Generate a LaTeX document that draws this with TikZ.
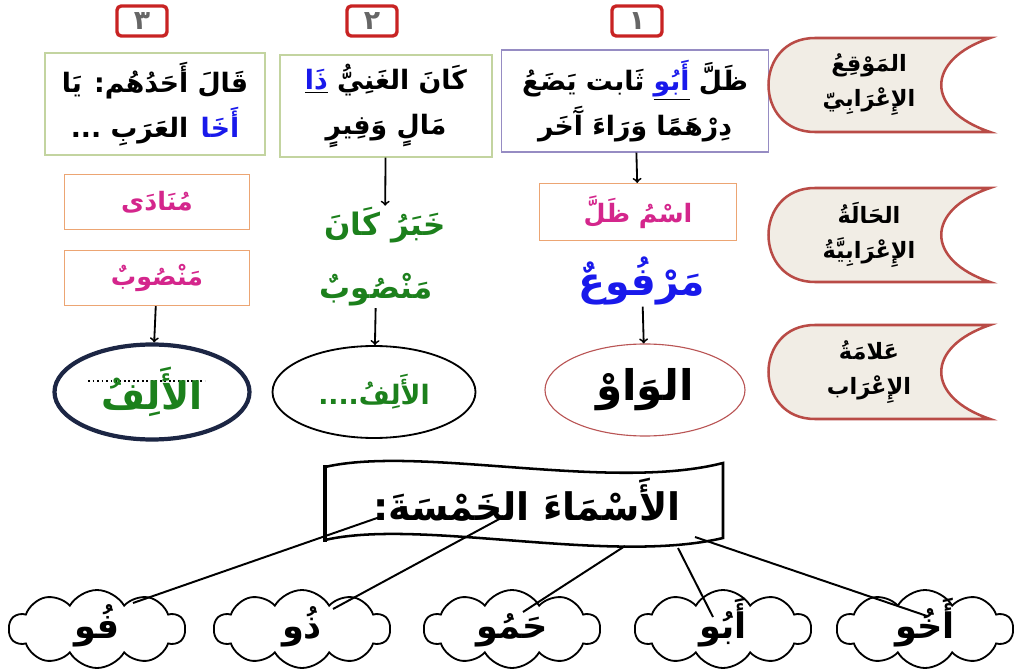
\documentclass[tikz,border=0pt]{standalone}
\usepackage{fontspec}
\newfontfamily\arabicfont[Script=Arabic]{DejaVu Sans}
\TeXXeTstate=1
\usetikzlibrary{shapes,shapes.symbols,positioning,calc}

\newlength\upx
\setlength\upx{0.025cm}
\newcommand\artxt[1]{\beginR #1\endR}
\newcommand\cloudtxt[1]{\raisebox{-7pt}[0pt][0pt]{\makebox[0pt]{\artxt{#1}}}}
\newcommand\arsize[2]{\arabicfont\bfseries\fontsize{#1}{#2}\selectfont}

\definecolor{numred}{RGB}{200,35,35}
\definecolor{tabred}{RGB}{185,75,70}
\definecolor{tabfill}{RGB}{241,237,229}
\definecolor{boxpurple}{RGB}{150,140,195}
\definecolor{boxgreen}{RGB}{195,212,160}
\definecolor{boxorange}{RGB}{236,165,115}
\definecolor{pinktxt}{RGB}{212,38,140}
\definecolor{greentxt}{RGB}{28,128,28}
\definecolor{bluetxt}{RGB}{25,25,235}
\definecolor{ellred}{RGB}{185,85,85}
\definecolor{navy}{RGB}{28,38,68}

\begin{document}
\begin{tikzpicture}[
      x=\upx, y=-\upx,
      numbox/.style = {draw=numred, line width=2.4pt, rounded corners=3pt, fill=white,
                       minimum width=50\upx, minimum height=30\upx, inner sep=0pt,
                       font=\arsize{19}{20}, text=black!60},
      topbox/.style = {draw, line width=0.8pt, align=center, inner sep=2pt,
                       minimum height=102\upx, font=\arsize{19}{32}},
      tabline/.style = {draw=tabred, line width=1.8pt, fill=tabfill},
      tabtxt/.style = {align=center, font=\arsize{16}{25}},
      casebox/.style = {draw=boxorange, line width=0.8pt, text=pinktxt,
                        inner sep=1pt, font=\arsize{18}{22}},
      bigtxt/.style = {inner sep=1pt, font=\arsize{22}{26}},
      endell/.style = {ellipse, inner sep=0pt, minimum width=200\upx, minimum height=92\upx},
      puff/.style = {cloud, cloud puffs=10, cloud puff arc=120, aspect=2.5, draw, line width=1.3pt,
                     minimum width=176\upx, minimum height=78\upx, inner sep=0pt,
                     font=\arsize{25}{28}},
      arr/.style = {->, line width=1.3pt},
      link/.style = {line width=1.4pt}
      ]
      \useasboundingbox (0,0) rectangle (1014,669);

      % numbers
      \node[numbox] (n1) at (637,21) {\artxt{١}};
      \node[numbox] (n2) at (372,21) {\artxt{٢}};
      \node[numbox] (n3) at (142,21) {\artxt{٣}};

      % examples
      \node[topbox, draw=boxpurple, minimum width=267\upx] (ex1) at (635,101)
        {\artxt{ظَلَّ \underline{\color{bluetxt}أَبُو} ثَابت يَضَعُ}\\ \artxt{دِرْهَمًا وَرَاءَ آَخَر}};
      \node[topbox, draw=boxgreen, minimum width=212\upx] (ex2) at (386,106)
        {\artxt{كَانَ الغَنِيُّ \underline{\color{bluetxt}ذَا}}\\ \artxt{مَالٍ وَفِيرٍ}};
      \node[topbox, draw=boxgreen, minimum width=220\upx] (ex3) at (155,104)
        {\artxt{قَالَ أَحَدُهُم: يَا}\\ \artxt{العَرَبِ ...} {\color{bluetxt}أَخَا}};

      % row labels
      \foreach \yc in {85,235,372}
        \draw[tabline] (990,\yc-47) -- (815,\yc-47)
          .. controls (753,\yc-47) and (753,\yc+47) .. (815,\yc+47) -- (990,\yc+47)
          .. controls (925,\yc+25) and (925,\yc-25) .. cycle;
      \node[tabtxt] (pos) at (869,85) {\artxt{المَوْقِعُ}\\ \artxt{الإِعْرَابِيّ}};
      \node[tabtxt] (case) at (869,235) {\artxt{الحَالَةُ}\\ \artxt{الإِعْرَابِيَّةُ}};
      \node[tabtxt] (sign) at (869,372) {\artxt{عَلامَةُ}\\ \artxt{الإِعْرَاب}};

      % column 1
      \node[casebox, minimum width=197\upx, minimum height=57\upx] (ism) at (638,212) {\artxt{اسْمُ ظَلَّ}};
      \node[bigtxt, text=bluetxt, font=\arsize{28}{30}] (marfu) at (642,281) {\artxt{مَرْفُوعٌ}};
      \node[endell, draw=ellred, line width=0.8pt, font=\arsize{30}{32}] (wau) at (645,390) {\artxt{الوَاوْ}};

      % column 2
      \node[bigtxt, text=greentxt] (khabar) at (385,225) {\artxt{خَبَرُ كَانَ}};
      \node[bigtxt, text=greentxt] (mansub2) at (376,290) {\artxt{مَنْصُوبٌ}};
      \node[endell, draw, line width=1.3pt, minimum width=203\upx, text=greentxt, font=\arsize{19}{22}] (alif2) at (374,392)
        {\artxt{الأَلِفُ....}\hspace{50\upx}};

      % column 3
      \node[casebox, minimum width=185\upx, minimum height=55\upx] (munada) at (157,202) {\artxt{مُنَادَى}};
      \node[casebox, minimum width=185\upx, minimum height=55\upx] (mansub3) at (157,278) {\artxt{مَنْصُوبٌ}};
      \draw[dotted, line width=1.2pt] (88,381) -- (205,381);
      \node[endell, draw=navy, line width=3pt, minimum width=195\upx, minimum height=95\upx, text=greentxt, font=\arsize{27}{30}] (alif3) at (152,392) {\artxt{الأَلِفُ}};

      \draw[arr] (ex1) -- (ism);
      \draw[arr] (marfu) -- (wau);
      \draw[arr] (ex2) -- (khabar);
      \draw[arr] (mansub2) -- (alif2);
      \draw[arr] (mansub3) -- (alif3);

      % banner
      \draw[line width=1.8pt, fill=white] (325,467) .. controls (420,445) and (610,492) .. (723,463)
        -- (723,538) .. controls (610,565) and (420,518) .. (325,540) -- cycle;
      \draw[line width=3.5pt] (325,465) -- (325,542);
      \node[font=\arsize{27}{30}, inner sep=0pt] (five) at (527,500) {\artxt{الأَسْمَاءَ الخَمْسَةَ:}};
      \coordinate (b1) at (380,517);
      \coordinate (b2) at (503,517);
      \coordinate (b3) at (625,546);
      \coordinate (b4) at (678,548);
      \coordinate (b5) at (695,537);

      % the five nouns
      \node[puff] (fu) at (97,629) {\cloudtxt{فُو}};
      \node[puff] (dhu) at (302,629) {\cloudtxt{ذُو}};
      \node[puff] (hamu) at (512,629) {\cloudtxt{حَمُو}};
      \node[puff] (abu) at (723,629) {\cloudtxt{أَبُو}};
      \node[puff] (akhu) at (925,629) {\cloudtxt{أَخُو}};

      \draw[link] (b1) -- ($(fu)+(36,-26)$);
      \draw[link] (b2) -- ($(dhu)+(31,-20)$);
      \draw[link] (b3) -- ($(hamu)+(11,-17)$);
      \draw[link] (b4) -- ($(abu)+(-10,-12)$);
      \draw[link] (b5) -- ($(akhu)+(2,-13)$);
    \end{tikzpicture}
\end{document}
